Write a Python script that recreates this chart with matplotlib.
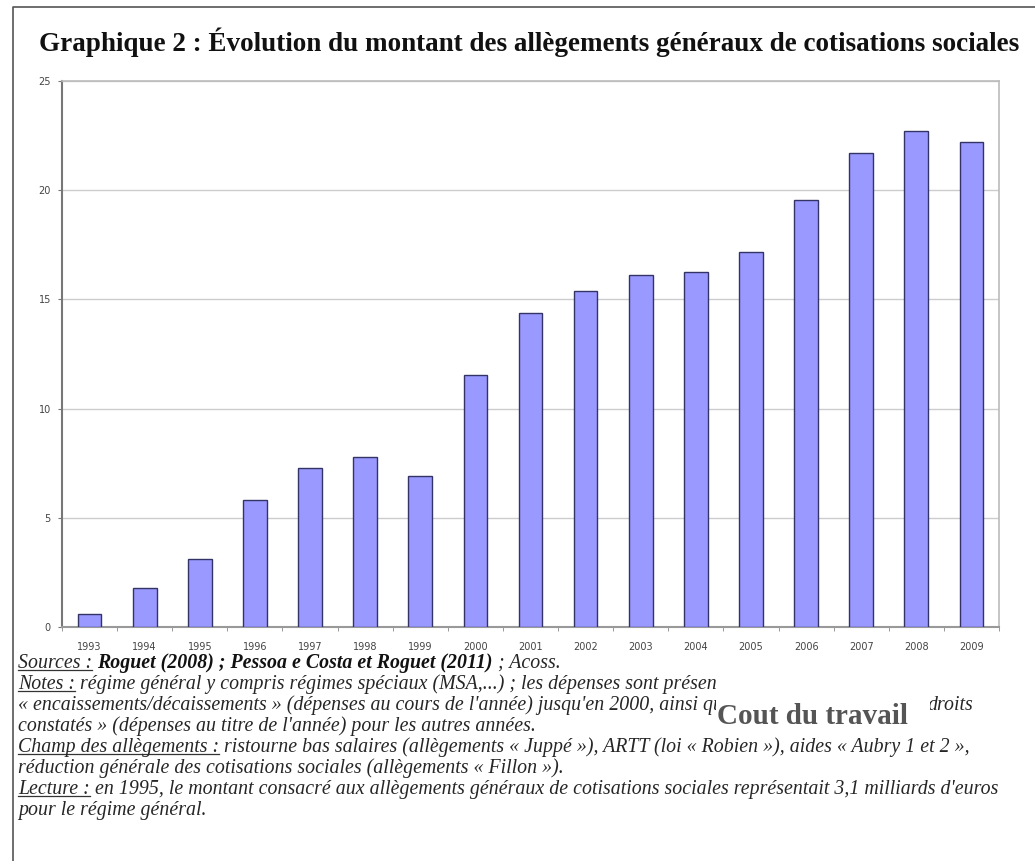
import matplotlib
matplotlib.use("Agg")
import matplotlib.pyplot as plt
from matplotlib.lines import Line2D
from matplotlib.patches import Rectangle

years = ["1993", "1994", "1995", "1996", "1997", "1998", "1999", "2000", "2001",
         "2002", "2003", "2004", "2005", "2006", "2007", "2008", "2009"]
values = [0.6, 1.8, 3.1, 5.8, 7.3, 7.8, 6.9, 11.55, 14.4, 15.4, 16.1, 16.25,
          17.15, 19.55, 21.7, 22.7, 22.2]
yticks = [0, 5, 10, 15, 20, 25]

title = "Graphique 2 : Évolution du montant des allègements généraux de cotisations sociales"

# (text, style[, absolute x in px])
notes = [
    [("Sources :", "u"), (" ", "i"), ("Roguet (2008) ; Pessoa e Costa et Roguet (2011)", "b"), (" ; Acoss.", "i")],
    [("Notes :", "u"), (" régime général y compris régimes spéciaux (MSA,...) ; les dépenses sont présentées en", "i")],
    [("« encaissements/décaissements » (dépenses au cours de l'année) jusqu'en 2000, ainsi qu", "i"), ("droits", "i", 927)],
    [("constatés » (dépenses au titre de l'année) pour les autres années.", "i")],
    [("Champ des allègements :", "u"), (" ristourne bas salaires (allègements « Juppé »), ARTT (loi « Robien »), aides « Aubry 1 et 2 »,", "i")],
    [("réduction générale des cotisations sociales (allègements « Fillon »).", "i")],
    [("Lecture :", "u"), (" en 1995, le montant consacré aux allègements généraux de cotisations sociales représentait 3,1 milliards d'euros", "i")],
    [("pour le régime général.", "i")],
]
overlay = "Cout du travail"

W, H = 1035, 861
fig = plt.figure(figsize=(W / 100, H / 100), dpi=100)
fig.patch.set_facecolor("white")

def fx(px):
    return px / W

def fy(py):
    return 1 - py / H

# outer frame
fig.add_artist(Line2D([fx(13), fx(13), fx(W)], [fy(H), fy(7), fy(7)],
                      transform=fig.transFigure, color="#555555", lw=1.2))

# title
fig.text(fx(39), fy(42), title, family="Liberation Serif", weight="bold",
         fontsize=19.5, color="#111111", va="center", ha="left")

# axes
ax = fig.add_axes([fx(62), fy(627), fx(999) - fx(62), fy(81) - fy(627)])
x = list(range(len(years)))
ax.bar(x, values, width=0.43, color="#9999FF", edgecolor="#333366", linewidth=1.0, zorder=3)
ax.set_xlim(-0.5, len(years) - 0.5)
ax.set_ylim(0, 25)
ax.set_yticks(yticks)
ax.set_yticklabels([str(t) for t in yticks])
ax.set_xticks(x)
ax.set_xticklabels(years)
ax.set_xticks([i + 0.5 for i in range(-1, len(years))], minor=True)
ax.tick_params(axis="x", which="major", length=0, pad=11, labelsize=7, labelcolor="#444444")
ax.tick_params(axis="x", which="minor", length=3, color="#888888", direction="out")
ax.tick_params(axis="y", length=3, color="#777777", pad=5, labelsize=7, labelcolor="#444444")
ax.grid(axis="y", color="#cccccc", lw=1, zorder=0)
for s in ["top", "right"]:
    ax.spines[s].set_color("#bbbbbb")
    ax.spines[s].set_linewidth(1.2)
ax.spines["left"].set_color("#777777")
ax.spines["left"].set_linewidth(1.5)
ax.spines["bottom"].set_color("#999999")
ax.spines["bottom"].set_linewidth(1.5)

# notes
renderer = fig.canvas.get_renderer()
fsize = 14.3

def style_kw(st):
    kw = dict(family="Liberation Serif", style="italic", fontsize=fsize, color="#262626")
    if st == "b":
        kw["weight"] = "bold"
        kw["color"] = "#111111"
    return kw

def text_width(s, kw):
    t = fig.text(0, 0, s + "|", **kw)
    w1 = t.get_window_extent(renderer).width
    t.remove()
    t = fig.text(0, 0, "|", **kw)
    w2 = t.get_window_extent(renderer).width
    t.remove()
    return w1 - w2

line_y0 = 668
line_dy = 21
for li, runs in enumerate(notes):
    ypx = line_y0 + li * line_dy
    xpx = 18
    for run in runs:
        s, st = run[0], run[1]
        if len(run) > 2:
            xpx = run[2]
        kw = style_kw(st)
        fig.text(fx(xpx), fy(ypx), s, va="baseline", ha="left", **kw)
        w = text_width(s, kw)
        if st == "u":
            fig.add_artist(Line2D([fx(xpx), fx(xpx + w)], [fy(ypx + 2), fy(ypx + 2)],
                                  transform=fig.transFigure, color="#333333", lw=0.9))
        xpx += w

# overlay box
fig.add_artist(Rectangle((fx(716), fy(736)), fx(930) - fx(716), fy(674) - fy(736),
                         transform=fig.transFigure, facecolor="white", edgecolor="none", zorder=10))
fig.text(fx(717), fy(724), overlay, family="Liberation Serif", weight="bold",
         fontsize=21, color="#555555", va="baseline", ha="left", zorder=11)

fig.savefig("out.png", dpi=100, facecolor="white")
